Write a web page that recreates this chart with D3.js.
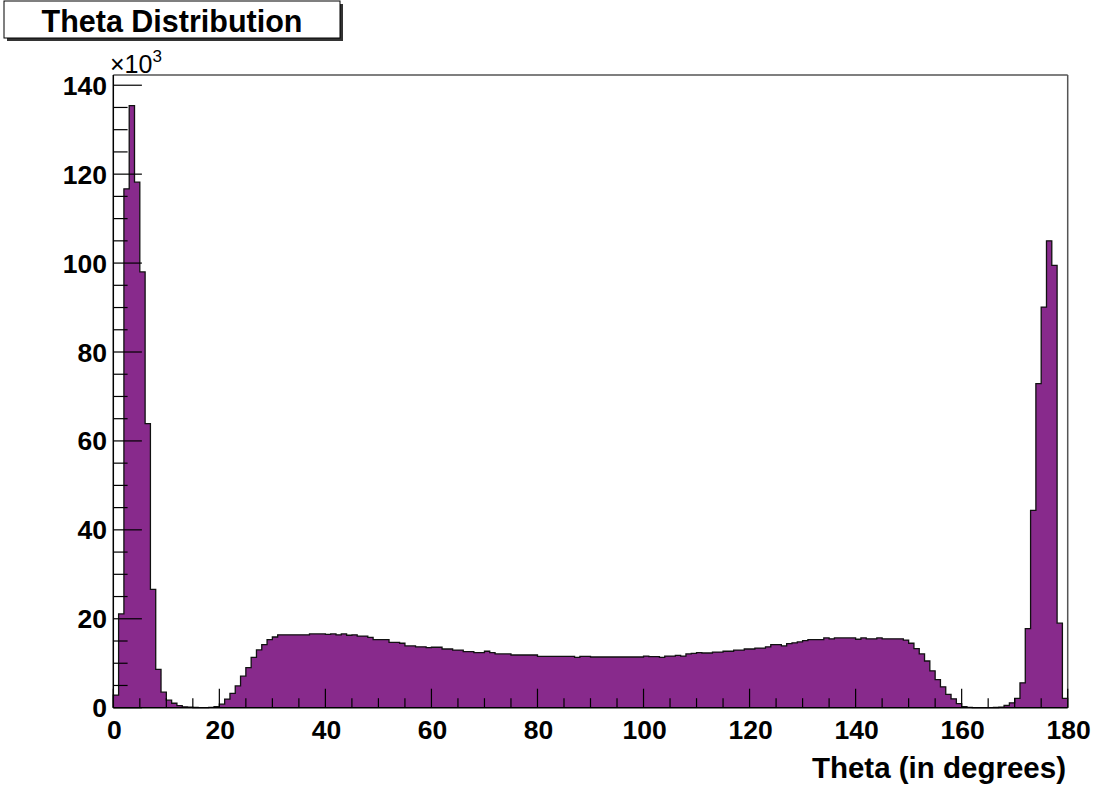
<!DOCTYPE html>
<meta charset="utf-8">
<head>
	<title>Theta Distribution</title>
	<script type="text/javascript" src="https://d3js.org/d3.v7.min.js"></script>
	<style>
		body {
			margin: 0;
			background-color: #fff;
		}

		.tick-label {
			font-family: "Liberation Sans", Arial, sans-serif;
			font-weight: bold;
			font-size: 26.5px;
			fill: #000;
		}

		.axis-title {
			font-family: "Liberation Sans", Arial, sans-serif;
			font-weight: bold;
			font-size: 29.5px;
			fill: #000;
		}
	</style>
</head>

<body>
	<div id="histo"></div>

	<script>
		// theta bins, 1 degree each, from 0 to 180
		var thetaMin = 0;
		var thetaMax = 180;
		var binWidth = 1;

		// entries per bin, in units of 10^3
		var thetaCounts = [
			2.85, 21.1, 116.7, 135.4, 118.2, 98.0, 63.9, 26.6, 8.6, 3.5,
			1.7, 1.0, 0.45, 0.2, 0.1, 0.05, 0.03, 0.03, 0.06, 0.25,
			0.8, 1.95, 3.2, 4.9, 7.1, 9.0, 11.3, 13.0, 14.2, 15.3,
			15.9, 16.4, 16.4, 16.4, 16.4, 16.4, 16.4, 16.6, 16.6, 16.6,
			16.5, 16.6, 16.4, 16.6, 16.3, 16.4, 16.1, 16.1, 15.8, 15.3,
			15.3, 15.3, 14.7, 14.7, 14.5, 13.9, 13.9, 13.7, 13.7, 13.5,
			13.6, 13.6, 13.2, 13.2, 12.95, 12.95, 12.6, 12.6, 12.4, 12.4,
			12.7, 12.4, 12.1, 12.1, 12.1, 11.85, 11.85, 11.85, 11.85, 11.85,
			11.55, 11.55, 11.55, 11.55, 11.55, 11.55, 11.55, 11.3, 11.55, 11.55,
			11.4, 11.4, 11.4, 11.4, 11.4, 11.4, 11.4, 11.4, 11.4, 11.4,
			11.6, 11.5, 11.5, 11.3, 11.6, 11.6, 11.75, 11.6, 12.1, 12.2,
			12.4, 12.3, 12.3, 12.5, 12.5, 12.7, 12.7, 12.95, 12.95, 13.2,
			13.2, 13.4, 13.4, 13.7, 14.2, 14.2, 13.9, 14.4, 14.6, 14.8,
			15.1, 15.3, 15.3, 15.3, 15.7, 15.5, 15.7, 15.7, 15.7, 15.7,
			15.4, 15.7, 15.5, 15.5, 15.7, 15.5, 15.5, 15.5, 15.5, 15.2,
			14.5, 13.3, 12.1, 10.5, 8.3, 6.3, 4.7, 3.0, 2.0, 0.9,
			0.25, 0.06, 0.02, 0.01, 0.01, 0.02, 0.05, 0.15, 0.5, 1.1,
			2.1, 5.6, 17.8, 44.4, 72.9, 90.1, 105.0, 99.5, 19.0, 2.1
		];

		// axis ticks
		var xMajorTicks = [0, 20, 40, 60, 80, 100, 120, 140, 160, 180];
		var xMinorTicks = d3.range(0, 181, 5);
		var yMajorTicks = [0, 20, 40, 60, 80, 100, 120, 140];
		var yMinorTicks = d3.range(0, 141, 5);
		var yMax = 142.3;

		var titleText = "Theta Distribution";
		var xTitleText = "Theta (in degrees)";

		var width = 1094;
		var height = 785;
		var frame = { left: 113.3, right: 1067.7, top: 75, bottom: 707.7 };

		var svg = d3.select("div#histo").append("svg")
			.attr("width", width)
			.attr("height", height)
			.style("display", "block");

		var x = d3.scaleLinear().domain([thetaMin, thetaMax]).range([frame.left, frame.right]);
		var y = d3.scaleLinear().domain([0, yMax]).range([frame.bottom, frame.top]);

		// step points: start at zero, one point per bin low edge, end back at zero
		var pts = [{ t: thetaMin, v: 0 }];
		thetaCounts.forEach(function (v, i) {
			pts.push({ t: thetaMin + i * binWidth, v: v });
		});
		pts.push({ t: thetaMax, v: 0 });

		var area = d3.area()
			.curve(d3.curveStepAfter)
			.x(function (d) { return x(d.t); })
			.y0(y(0))
			.y1(function (d) { return y(d.v); });

		var line = d3.line()
			.curve(d3.curveStepAfter)
			.x(function (d) { return x(d.t); })
			.y(function (d) { return y(d.v); });

		svg.append("path")
			.datum(pts)
			.attr("d", area)
			.style("fill", "#882a8c")
			.style("stroke", "none");

		svg.append("path")
			.datum(pts)
			.attr("d", line)
			.style("fill", "none")
			.style("stroke", "#111")
			.style("stroke-width", 1.3);

		// frame: top and right in grey, axes in black
		svg.append("line")
			.attr("x1", frame.left).attr("x2", frame.right)
			.attr("y1", frame.top).attr("y2", frame.top)
			.style("stroke", "#555").style("stroke-width", 1.5);
		svg.append("line")
			.attr("x1", frame.right).attr("x2", frame.right)
			.attr("y1", frame.top).attr("y2", frame.bottom)
			.style("stroke", "#555").style("stroke-width", 1.5);
		svg.append("line")
			.attr("x1", frame.left).attr("x2", frame.right)
			.attr("y1", frame.bottom).attr("y2", frame.bottom)
			.style("stroke", "#000").style("stroke-width", 1.5);
		svg.append("line")
			.attr("x1", frame.left).attr("x2", frame.left)
			.attr("y1", frame.top).attr("y2", frame.bottom)
			.style("stroke", "#000").style("stroke-width", 1.5);

		// x ticks point up into the frame
		svg.selectAll(".xminor")
			.data(xMinorTicks)
			.enter()
			.append("line")
			.attr("class", "xminor")
			.attr("x1", function (d) { return x(d); })
			.attr("x2", function (d) { return x(d); })
			.attr("y1", frame.bottom)
			.attr("y2", function (d) { return frame.bottom - (d % 20 === 0 ? 19 : 9.5); })
			.style("stroke", "#000")
			.style("stroke-width", 1.2);

		// y ticks point right into the frame
		svg.selectAll(".yminor")
			.data(yMinorTicks)
			.enter()
			.append("line")
			.attr("class", "yminor")
			.attr("y1", function (d) { return y(d); })
			.attr("y2", function (d) { return y(d); })
			.attr("x1", frame.left)
			.attr("x2", function (d) { return frame.left + (d % 20 === 0 ? 28.6 : 14.3); })
			.style("stroke", "#000")
			.style("stroke-width", 1.2);

		svg.selectAll(".xlabel")
			.data(xMajorTicks)
			.enter()
			.append("text")
			.attr("class", "tick-label xlabel")
			.attr("x", function (d) { return x(d) + 1; })
			.attr("y", 739)
			.attr("text-anchor", "middle")
			.text(function (d) { return d; });

		svg.selectAll(".ylabel")
			.data(yMajorTicks)
			.enter()
			.append("text")
			.attr("class", "tick-label ylabel")
			.attr("x", 107)
			.attr("y", function (d) { return y(d); })
			.attr("dy", "0.36em")
			.attr("text-anchor", "end")
			.text(function (d) { return d; });

		// x10^3 multiplier
		var mult = svg.append("text")
			.attr("x", 110)
			.attr("y", 73)
			.style("font-family", "'Liberation Sans', Arial, sans-serif")
			.style("font-size", "25px");
		mult.append("tspan").text("\u00d710");
		mult.append("tspan")
			.attr("dy", -11)
			.style("font-size", "17px")
			.text("3");

		svg.append("text")
			.attr("class", "axis-title")
			.attr("x", 1066)
			.attr("y", 778)
			.attr("text-anchor", "end")
			.text(xTitleText);

		// title box with shadow
		svg.append("rect")
			.attr("x", 7).attr("y", 4)
			.attr("width", 336).attr("height", 37)
			.style("fill", "#333");
		svg.append("rect")
			.attr("x", 4).attr("y", 1)
			.attr("width", 336).attr("height", 37)
			.style("fill", "#fff")
			.style("stroke", "#000")
			.style("stroke-width", 1);
		svg.append("text")
			.attr("x", 172)
			.attr("y", 32)
			.attr("text-anchor", "middle")
			.style("font-family", "'Liberation Sans', Arial, sans-serif")
			.style("font-weight", "bold")
			.style("font-size", "30.5px")
			.text(titleText);
	</script>

</body>
</html>
